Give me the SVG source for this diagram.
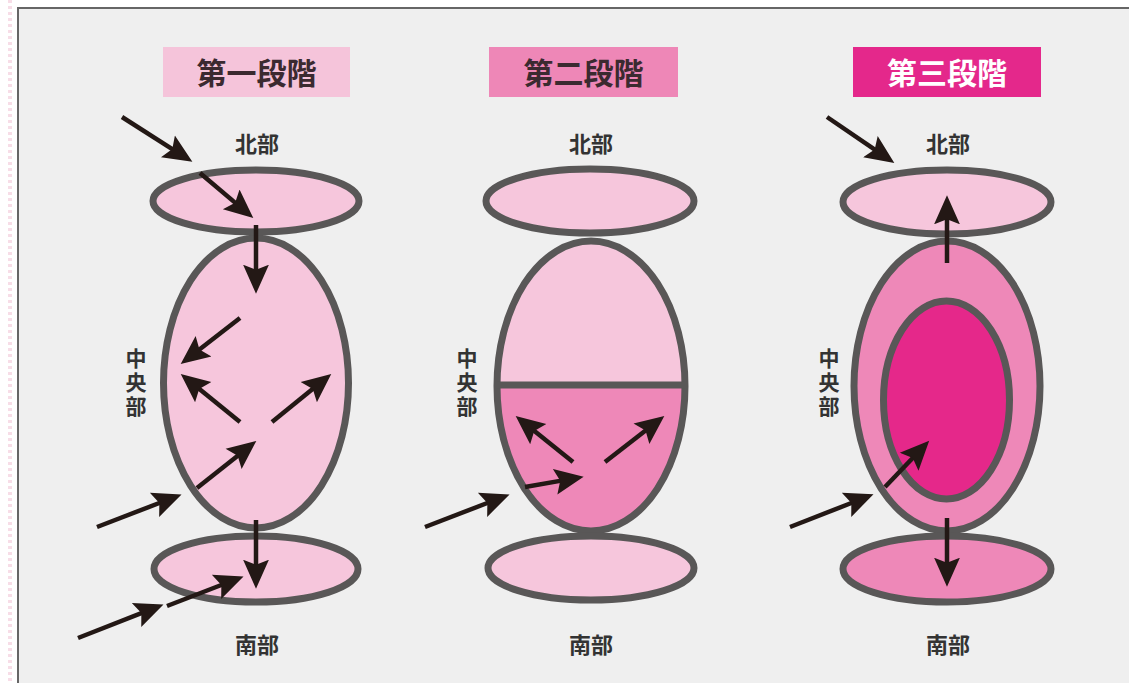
<svg xmlns="http://www.w3.org/2000/svg" width="1129" height="683" viewBox="0 0 1129 683">
<style>
.badge-t{font-family:"Noto Sans CJK JP","Noto Sans CJK SC",sans-serif;font-size:30px;font-weight:700;text-anchor:middle}
.lbl{font-family:"Noto Sans CJK JP","Noto Sans CJK SC",sans-serif;font-size:22px;font-weight:700;fill:#333;text-anchor:middle}
.vlbl{font-family:"Noto Sans CJK JP","Noto Sans CJK SC",sans-serif;font-size:21px;font-weight:700;fill:#333;writing-mode:vertical-rl;letter-spacing:3px}
.ol{stroke:#595757;stroke-width:7}
.light{fill:#f6c6dc}
.mid{fill:#ee88b8}
.hot{fill:#e5288a}
.arr{stroke:#231815;stroke-width:4.5;fill:none;marker-end:url(#ah)}
</style>
<defs>
<marker id="ah" markerUnits="userSpaceOnUse" markerWidth="30" markerHeight="30" viewBox="0 -13 29 26" refX="9" refY="0" orient="auto">
<path d="M0,-12.5 L28,0 L0,12.5 L5,0 Z" fill="#231815"/>
</marker>
</defs>
<rect x="0" y="0" width="1129" height="683" fill="#ffffff"/>
<line x1="10" y1="0" x2="10" y2="683" stroke="#f7dde7" stroke-width="4" stroke-dasharray="3 3"/>
<rect x="18" y="8" width="1200" height="800" fill="#efefef" stroke="#666" stroke-width="2"/>

<g id="stage1">
<rect x="163" y="47" width="187" height="50" fill="#f5c4da"/>
<text class="badge-t" x="256.5" y="84" fill="#3b2a30">第一段階</text>
</g>
<g id="stage2">
<rect x="489" y="47" width="189" height="50" fill="#ee87b7"/>
<text class="badge-t" x="583.5" y="84" fill="#3b2a30">第二段階</text>
</g>
<g id="stage3">
<rect x="853" y="47" width="188" height="50" fill="#e4288b"/>
<text class="badge-t" x="947" y="84" fill="#ffffff">第三段階</text>
</g>

<!-- Panel 1 -->
<g id="p1-central"><ellipse class="ol light" cx="256" cy="383" rx="92.5" ry="145"/></g>
<g id="p1-north"><ellipse class="ol light" cx="256" cy="201" rx="103" ry="31"/></g>
<g id="p1-south"><ellipse class="ol light" cx="256" cy="569" rx="102" ry="33"/></g>

<!-- Panel 2 -->
<g id="p2-central">
<ellipse class="light" cx="591" cy="386" rx="94" ry="145"/>
<path class="mid" d="M497,386 A94,145 0 0 0 685,386 Z"/>
<ellipse class="ol" fill="none" cx="591" cy="386" rx="94" ry="145"/>
<line class="ol" x1="497" y1="385" x2="685" y2="385"/>
</g>
<g id="p2-north"><ellipse class="ol light" cx="590" cy="201" rx="104" ry="32"/></g>
<g id="p2-south"><ellipse class="ol light" cx="591" cy="568" rx="103" ry="32"/></g>

<!-- Panel 3 -->
<g id="p3-central">
<ellipse class="ol mid" cx="947" cy="386" rx="93" ry="145"/>
<ellipse class="ol hot" cx="946.5" cy="400" rx="63" ry="99"/>
</g>
<g id="p3-north"><ellipse class="ol light" cx="947" cy="202" rx="104" ry="32"/></g>
<g id="p3-south"><ellipse class="ol mid" cx="947" cy="569" rx="104" ry="33"/></g>

<g id="labels">
<text class="lbl" x="257" y="152">北部</text>
<text class="lbl" x="591" y="152">北部</text>
<text class="lbl" x="948" y="152">北部</text>
<text class="lbl" x="257" y="653">南部</text>
<text class="lbl" x="591" y="653">南部</text>
<text class="lbl" x="948" y="653">南部</text>
<text class="vlbl" x="136" y="348">中央部</text>
<text class="vlbl" x="467" y="348">中央部</text>
<text class="vlbl" x="829" y="348">中央部</text>
</g>

<g id="connectors">
<line class="arr" x1="122" y1="117" x2="175.8" y2="151.3"/>
<line class="arr" x1="200" y1="173" x2="238.3" y2="205.4"/>
<line class="arr" x1="256" y1="225" x2="256" y2="274"/>
<line class="arr" x1="240" y1="318" x2="196.2" y2="352"/>
<line class="arr" x1="240" y1="422" x2="196" y2="386.3"/>
<line class="arr" x1="272" y1="422" x2="316" y2="386.3"/>
<line class="arr" x1="197" y1="488" x2="240.9" y2="453.2"/>
<line class="arr" x1="97" y1="527" x2="163.2" y2="501.5"/>
<line class="arr" x1="256" y1="520" x2="256" y2="569"/>
<line class="arr" x1="167" y1="606" x2="225.2" y2="583.5"/>
<line class="arr" x1="78" y1="638" x2="145.2" y2="611.6"/>

<line class="arr" x1="573" y1="462" x2="531" y2="428.3"/>
<line class="arr" x1="605" y1="462" x2="648.8" y2="428"/>
<line class="arr" x1="525" y1="487" x2="564.3" y2="480.1"/>
<line class="arr" x1="425" y1="527" x2="491.2" y2="501.5"/>

<line class="arr" x1="827" y1="117" x2="878.1" y2="151.9"/>
<line class="arr" x1="947" y1="263" x2="947" y2="215"/>
<line class="arr" x1="885" y1="487" x2="915.6" y2="455"/>
<line class="arr" x1="790" y1="527" x2="855.2" y2="501.5"/>
<line class="arr" x1="947" y1="518" x2="947" y2="567"/>
</g>
</svg>
